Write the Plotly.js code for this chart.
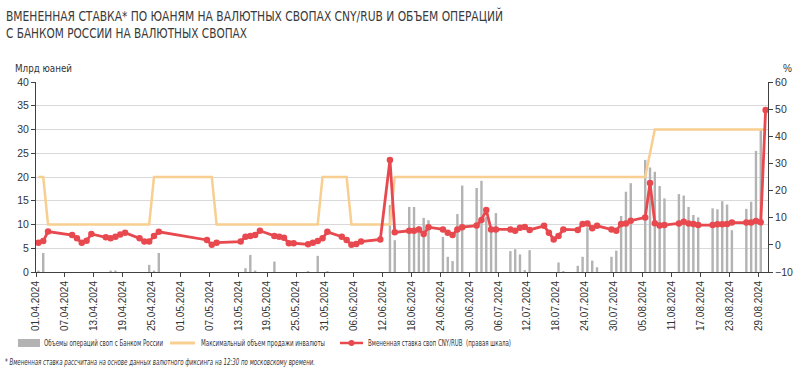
<!DOCTYPE html>
<html><head><meta charset="utf-8">
<script src="https://cdn.plot.ly/plotly-3.0.1.min.js"></script>
<style>html,body{margin:0;padding:0;background:#fff;} #chart{width:808px;height:370px;}</style>
</head><body><div id="chart"></div>
<script>
// ---- data ----
const rateDates = [
 '2024-04-01','2024-04-02','2024-04-03',
 '2024-04-08','2024-04-09','2024-04-10','2024-04-11','2024-04-12',
 '2024-04-15','2024-04-16','2024-04-17','2024-04-18','2024-04-19',
 '2024-04-22','2024-04-23','2024-04-24','2024-04-25','2024-04-26',
 '2024-05-06','2024-05-07','2024-05-08',
 '2024-05-13','2024-05-14','2024-05-15','2024-05-16','2024-05-17',
 '2024-05-20','2024-05-21','2024-05-22','2024-05-23','2024-05-24',
 '2024-05-27','2024-05-28','2024-05-29','2024-05-30','2024-05-31',
 '2024-06-03','2024-06-04','2024-06-05','2024-06-06','2024-06-07',
 '2024-06-11','2024-06-13','2024-06-14',
 '2024-06-17','2024-06-18','2024-06-19','2024-06-20','2024-06-21',
 '2024-06-24','2024-06-25','2024-06-26','2024-06-27','2024-06-28',
 '2024-07-01','2024-07-02','2024-07-03','2024-07-04','2024-07-05',
 '2024-07-08','2024-07-09','2024-07-10','2024-07-11','2024-07-12',
 '2024-07-15','2024-07-16','2024-07-17','2024-07-18','2024-07-19',
 '2024-07-22','2024-07-23','2024-07-24','2024-07-25','2024-07-26',
 '2024-07-29','2024-07-30','2024-07-31','2024-08-01','2024-08-02',
 '2024-08-05','2024-08-06','2024-08-07','2024-08-08','2024-08-09',
 '2024-08-12','2024-08-13','2024-08-14','2024-08-15','2024-08-16',
 '2024-08-19','2024-08-20','2024-08-21','2024-08-22','2024-08-23',
 '2024-08-26','2024-08-27','2024-08-28','2024-08-29','2024-08-30'
];
const rateValues = [
 0.8, 1.4, 4.9,
 3.6, 2.4, 0.8, 1.5, 4.0,
 2.8, 2.4, 3.0, 3.8, 4.5,
 2.4, 1.2, 1.2, 3.3, 4.8,
 1.8, 0.0, 0.8,
 1.2, 3.0, 3.3, 3.6, 5.2,
 3.3, 3.0, 2.6, 0.6, 0.6,
 0.2, 0.8, 1.4, 2.4, 4.8,
 3.0, 1.8, 0.0, 0.3, 1.2,
 2.0, 31.3, 4.6,
 5.2, 5.2, 5.7, 4.0, 6.5,
 5.7, 4.5, 3.6, 5.7, 6.5,
 7.1, 9.2, 12.8, 5.7, 5.7,
 5.7, 5.2, 6.3, 6.6, 5.5,
 7.0, 4.5, 2.0, 3.3, 5.7,
 5.5, 7.7, 7.9, 6.1, 7.0,
 5.7, 5.2, 7.7, 7.9, 8.9,
 10.1, 22.8, 8.0, 7.1, 7.3,
 7.9, 8.5, 7.9, 7.7, 7.3,
 7.3, 7.6, 7.6, 7.7, 8.2,
 8.2, 8.2, 8.8, 8.3, 49.7
];
const maxSaleValues = [
 20, 20, 10,
 10, 10, 10, 10, 10,
 10, 10, 10, 10, 10,
 10, 10, 10, 20, 20,
 20, 20, 10,
 10, 10, 10, 10, 10,
 10, 10, 10, 10, 10,
 10, 10, 10, 20, 20,
 20, 20, 10, 10, 10,
 10, 10, 20,
 20, 20, 20, 20, 20,
 20, 20, 20, 20, 20,
 20, 20, 20, 20, 20,
 20, 20, 20, 20, 20,
 20, 20, 20, 20, 20,
 20, 20, 20, 20, 20,
 20, 20, 20, 20, 20,
 20, 25, 30, 30, 30,
 30, 30, 30, 30, 30,
 30, 30, 30, 30, 30,
 30, 30, 30, 30, 30
];
const swapDates = [
 '2024-04-01','2024-04-02','2024-04-16','2024-04-17','2024-04-24','2024-04-25','2024-04-26',
 '2024-05-14','2024-05-15','2024-05-16','2024-05-20','2024-05-27','2024-05-29','2024-05-31',
 '2024-06-13','2024-06-14','2024-06-17','2024-06-18','2024-06-19','2024-06-20','2024-06-21',
 '2024-06-24','2024-06-25','2024-06-26','2024-06-27','2024-06-28',
 '2024-07-01','2024-07-02','2024-07-03','2024-07-04','2024-07-05',
 '2024-07-08','2024-07-09','2024-07-10','2024-07-11','2024-07-12',
 '2024-07-18','2024-07-19',
 '2024-07-22','2024-07-23','2024-07-24','2024-07-25','2024-07-26',
 '2024-07-29','2024-07-30','2024-07-31','2024-08-01','2024-08-02',
 '2024-08-05','2024-08-06','2024-08-07','2024-08-08','2024-08-09',
 '2024-08-12','2024-08-13','2024-08-14','2024-08-15','2024-08-16',
 '2024-08-19','2024-08-20','2024-08-21','2024-08-22','2024-08-23',
 '2024-08-26','2024-08-27','2024-08-28','2024-08-29'
];
const swapValues = [
 0.3, 4.0, 0.3, 0.3, 1.5, 0.3, 4.0,
 0.8, 3.6, 0.3, 2.2, 0.2, 3.4, 0.2,
 14.1, 6.7, 13.7, 13.7, 9.7, 11.4, 10.9,
 7.4, 3.2, 2.3, 12.2, 18.2,
 17.7, 19.2, 11.6, 9.5, 12.4,
 4.4, 4.8, 3.7, 0.4, 4.6,
 2.0, 0.2,
 1.3, 3.2, 9.4, 2.4, 1.0,
 3.2, 4.5, 11.8, 16.9, 18.7,
 23.6, 22.0, 21.1, 18.1, 15.5,
 16.4, 16.1, 13.7, 12.0, 11.5,
 13.4, 13.2, 14.9, 14.2, 8.8,
 13.3, 14.8, 25.5, 30.0
];
const tickDates = ['2024-04-01','2024-04-07','2024-04-13','2024-04-19','2024-04-25','2024-05-01','2024-05-07',
 '2024-05-13','2024-05-19','2024-05-25','2024-05-31','2024-06-06','2024-06-12','2024-06-18','2024-06-24',
 '2024-06-30','2024-07-06','2024-07-12','2024-07-18','2024-07-24','2024-07-30','2024-08-05','2024-08-11',
 '2024-08-17','2024-08-23','2024-08-29'];
const tickLabels = tickDates.map(d => d.slice(8,10) + '.' + d.slice(5,7) + '.' + d.slice(0,4));

const titleLines = ['ВМЕНЕННАЯ СТАВКА* ПО ЮАНЯМ НА ВАЛЮТНЫХ СВОПАХ CNY/RUB И ОБЪЕМ ОПЕРАЦИЙ','С БАНКОМ РОССИИ НА ВАЛЮТНЫХ СВОПАХ'];
const legendLabels = ['Объемы операций своп с Банком России','Максимальный объем продажи инвалюты','Вмененная ставка своп CNY/RUB  (правая шкала)'];
const leftUnit = 'Млрд юаней';
const rightUnit = '%';
const footnote = '* Вмененная ставка рассчитана на основе данных валютного фиксинга на 12:30 по московскому времени.';

// ---- styling / layout ----
const W = 808, H = 370, L = 36, R = 40, T = 82, B = 98;
const pw = W - L - R, ph = H - T - B;
const px = x => (x - L) / pw;       // pixel -> paper x
const py = y => (H - B - y) / ph;   // pixel -> paper y
const mid = d => d + ' 12:00';
const DAY = 86400000;
const COND = '"DejaVu Sans Condensed", "Liberation Sans Narrow", sans-serif';
const SANS = '"Liberation Sans", Arial, sans-serif';
const GRAY = '#b3b3b3', ORANGE = '#f8cf90', RED = '#e8494f', AXIS = '#404040', TXT = '#333333';

const traces = [
  {type:'bar', x: swapDates.map(mid), y: swapValues, width: 0.5*DAY,
   marker:{color:GRAY}, name: legendLabels[0], yaxis:'y'},
  {type:'scatter', mode:'lines', x: rateDates.map(mid), y: maxSaleValues, name: legendLabels[1],
   line:{color:ORANGE, width:2.5}, yaxis:'y'},
  {type:'scatter', mode:'lines+markers', x: rateDates.map(mid), y: rateValues, name: legendLabels[2],
   line:{color:RED, width:2.8}, marker:{color:RED, size:6.5}, yaxis:'y2'}
];

const legendY = 343;
const shapes = [
  {type:'rect', xref:'paper', yref:'paper', x0:px(18), x1:px(40), y0:py(347), y1:py(339), fillcolor:GRAY, line:{width:0}},
  {type:'line', xref:'paper', yref:'paper', x0:px(170), x1:px(195), y0:py(legendY), y1:py(legendY), line:{color:ORANGE, width:3}},
  {type:'line', xref:'paper', yref:'paper', x0:px(340), x1:px(363), y0:py(legendY), y1:py(legendY), line:{color:RED, width:2.5}},
  {type:'circle', xref:'paper', yref:'paper', x0:px(348.5), x1:px(354.5), y0:py(346), y1:py(340), fillcolor:RED, line:{width:0}}
];

// [text, x px, y px, font size, target width px, italic]
const textItems = [
  [leftUnit, 13, 68, 10, 57, false],
  [rightUnit, 781, 68, 10, 0, false],
  [legendLabels[0], 42, legendY, 8.6, 119, false],
  [legendLabels[1], 199, legendY, 8.6, 124, false],
  [legendLabels[2], 366, legendY, 8.6, 143, false],
  [footnote, 3, 361, 9.5, 310, true],
  [titleLines[0], 4, 15, 14, 497, false],
  [titleLines[1], 4, 33, 14, 241, false]
];
const annotations = textItems.map(([t, x, y, s, w, it]) => ({
  text: it ? '<i>' + t + '</i>' : t, xref:'paper', yref:'paper', x:px(x), y:py(y), xanchor:'left', yanchor:'middle',
  showarrow:false, font:{family: t === rightUnit ? SANS : COND, size:s, color: y < 40 ? '#3a3a3a' : TXT}
}));

const layout = {
  width: W, height: H,
  margin:{l:L, r:R, t:T, b:B, pad:0},
  paper_bgcolor:'#ffffff', plot_bgcolor:'#ffffff',
  showlegend:false,
  xaxis:{type:'date', range:['2024-04-01','2024-08-31'], tickvals:tickDates, ticktext:tickLabels, tickangle:-90,
         showgrid:false, showline:true, linecolor:AXIS, linewidth:1, ticks:'outside', ticklen:4, tickcolor:AXIS,
         tickfont:{family:SANS, size:10, color:TXT}, zeroline:false},
  yaxis:{range:[0,40], dtick:5, showgrid:true, gridcolor:'#d9d9d9', gridwidth:1, showline:true, linecolor:AXIS,
         ticks:'outside', ticklen:4, tickcolor:AXIS, zeroline:false, tickfont:{family:SANS, size:10.5, color:TXT}},
  yaxis2:{range:[-10,60], dtick:10, overlaying:'y', side:'right', showgrid:false, showline:true, linecolor:AXIS,
         ticks:'outside', ticklen:4, tickcolor:AXIS, zeroline:false, tickfont:{family:SANS, size:10.5, color:TXT}},
  shapes: shapes,
  annotations: annotations
};

Plotly.newPlot('chart', traces, layout, {displayModeBar:false, staticPlot:true}).then(gd => {
  // condense texts horizontally to the widths of the reference's narrow typeface,
  // keeping each text's left edge where it was placed; shrink the annotation boxes to match
  const els = gd.querySelectorAll('g.annotation text.annotation-text');
  els.forEach((el, i) => {
    const target = textItems[i] && textItems[i][4];
    if (!target) return;
    const w = el.getComputedTextLength();
    if (w > 0) {
      const box = el.getBBox();
      const left = box.x;
      el.setAttribute('textLength', target);
      el.setAttribute('lengthAdjust', 'spacingAndGlyphs');
      el.setAttribute('text-anchor', 'start');
      el.style.textAnchor = 'start';
      el.setAttribute('x', left);
      const bg = el.parentNode.querySelector('rect.bg');
      if (bg) bg.setAttribute('width', target + 2);
    }
  });
});
</script></body></html>
